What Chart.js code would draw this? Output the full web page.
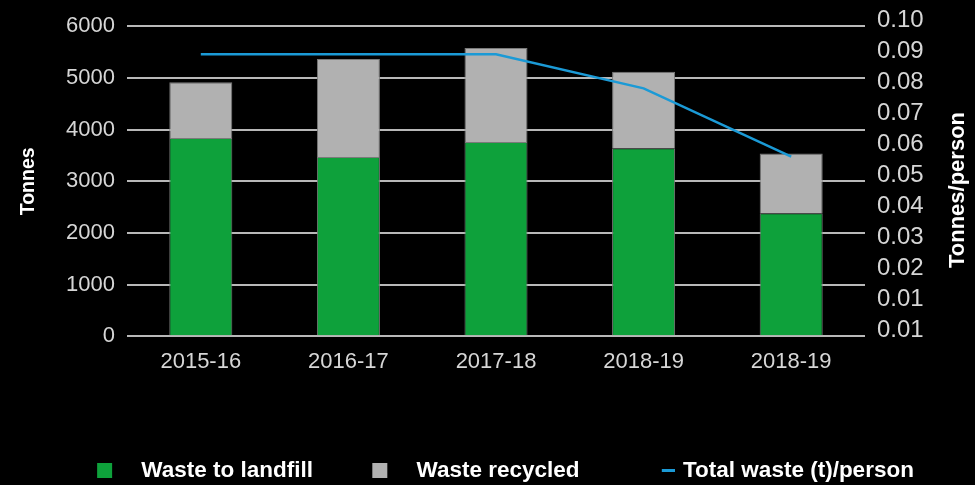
<!DOCTYPE html>
<html><head><meta charset="utf-8">
<script src="https://cdn.jsdelivr.net/npm/chart.js@4/dist/chart.umd.min.js"></script>
<style>html,body{margin:0;padding:0;background:#000;}canvas{display:block;}</style>
</head><body>
<canvas id="c" width="975" height="485"></canvas>
<script>
// ---- data ----
const categories = ['2015-16', '2016-17', '2017-18', '2018-19', '2018-19'];
const wasteToLandfill = [3840, 3470, 3760, 3640, 2380];
const wasteRecycled = [1080, 1900, 1820, 1480, 1160];
const totalWastePerPerson = [0.091, 0.091, 0.091, 0.080, 0.058];
const rightTickLabels = ['0.01', '0.01', '0.02', '0.03', '0.04', '0.05', '0.06', '0.07', '0.08', '0.09', '0.10'];
const seriesNames = ['Waste to landfill', 'Waste recycled', 'Total waste (t)/person'];
const leftTitle = 'Tonnes';
const rightTitle = 'Tonnes/person';

// ---- style ----
const GREEN = '#0ea13b', GREY = '#b1b1b1', BLUE = '#1b9ad6';
const TICK_COLOR = '#d6d6d6';
const GRID_COLOR = '#b8b8b8';

function swatch(w, h, color, x0, sw, sh) {
  const c = document.createElement('canvas');
  c.width = w; c.height = h;
  const g = c.getContext('2d');
  g.fillStyle = color;
  g.fillRect(x0, (h - sh) / 2, sw, sh);
  return c;
}
const legendMarks = [
  swatch(69, 15, GREEN, 36, 15, 15),
  swatch(69, 15, GREY, 36, 15, 15),
  swatch(75, 3, BLUE, 62, 13, 3)
];

const rightTitlePlugin = {
  id: 'rightTitle',
  afterDraw(chart) {
    const ctx = chart.ctx;
    ctx.save();
    ctx.translate(958, 190);
    ctx.rotate(-Math.PI / 2);
    ctx.font = 'bold 22px "Liberation Sans"';
    ctx.fillStyle = '#ffffff';
    ctx.textAlign = 'center';
    ctx.textBaseline = 'middle';
    ctx.fillText(rightTitle, 0, 0);
    ctx.restore();
  }
};

new Chart(document.getElementById('c'), {
  data: {
    labels: categories,
    datasets: [
      { type: 'bar', label: seriesNames[0], data: wasteToLandfill, backgroundColor: GREEN,
        borderColor: '#7a7a7a', borderWidth: 1, yAxisID: 'y', order: 1,
        barPercentage: 0.427, categoryPercentage: 1 },
      { type: 'bar', label: seriesNames[1], data: wasteRecycled, backgroundColor: GREY,
        borderColor: '#7a7a7a', borderWidth: 1, yAxisID: 'y', order: 1,
        barPercentage: 0.427, categoryPercentage: 1 },
      { type: 'line', label: seriesNames[2], data: totalWastePerPerson, borderColor: BLUE,
        backgroundColor: BLUE, borderWidth: 2.5, pointRadius: 0, tension: 0, yAxisID: 'y1', order: 0 }
    ]
  },
  options: {
    responsive: false,
    devicePixelRatio: 1,
    animation: false,
    layout: { padding: { top: 25, bottom: -7, left: 0, right: 0 } },
    plugins: {
      tooltip: { enabled: false },
      legend: {
        position: 'bottom',
        labels: {
          usePointStyle: true,
          pointStyleWidth: 69,
          boxHeight: 15,
          padding: 23.25,
          color: '#ffffff',
          font: { family: '"Liberation Sans"', weight: 'bold', size: 22.5 },
          generateLabels(chart) {
            return chart.data.datasets.map((ds, i) => ({
              text: ds.label,
              pointStyle: legendMarks[i],
              fillStyle: 'transparent',
              strokeStyle: 'transparent',
              lineWidth: 0,
              fontColor: '#ffffff',
              hidden: false,
              datasetIndex: i
            }));
          }
        }
      }
    },
    scales: {
      x: {
        stacked: true,
        grid: { display: false, drawTicks: false },
        border: { display: false },
        ticks: { color: TICK_COLOR, padding: 12, font: { family: '"Liberation Sans"', size: 22 } },
        afterFit(s) { s.height = 100; }
      },
      y: {
        stacked: true,
        position: 'left',
        min: 0, max: 6000,
        ticks: { stepSize: 1000, color: TICK_COLOR, padding: 12, font: { family: '"Liberation Sans"', size: 22 },
                 callback: (v) => String(v) },
        grid: { color: GRID_COLOR, lineWidth: 2, drawTicks: false },
        border: { display: false },
        title: { display: true, text: leftTitle, color: '#ffffff', padding: { top: 16.6, bottom: 0 },
                 font: { family: '"Liberation Sans"', weight: 'bold', size: 19.5 } },
        afterFit(s) { s.width = 127; }
      },
      y1: {
        position: 'right',
        min: 0, max: 0.1,
        grid: { display: false, drawTicks: false },
        border: { display: false },
        ticks: { stepSize: 0.01, autoSkip: false, color: TICK_COLOR, padding: 12, labelOffset: -6,
                 font: { family: '"Liberation Sans"', size: 24 },
                 callback: (v, i) => rightTickLabels[i] },
        afterFit(s) { s.width = 110; }
      }
    }
  },
  plugins: [rightTitlePlugin]
});
</script>
</body></html>
